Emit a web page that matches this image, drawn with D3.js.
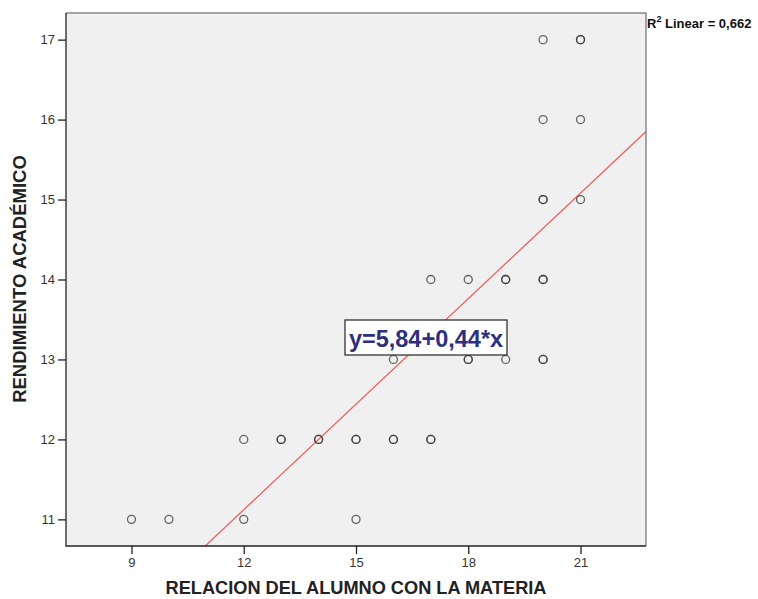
<!DOCTYPE html>
<html><head><meta charset="utf-8">
<script src="https://cdn.jsdelivr.net/npm/d3@7"></script>
<style>body{margin:0;background:#fff}svg{display:block}</style>
</head><body>
<script>
const xValues = [9,10,12,15,12,13,13,14,14,15,15,16,16,17,17,16,18,18,19,20,20,17,18,19,19,20,20,20,20,21,20,21,20,21,21];
const yValues = [11,11,11,11,12,12,12,12,12,12,12,12,12,12,12,13,13,13,13,13,13,14,14,14,14,14,14,15,15,15,16,16,17,17,17];
const xTicks = [9,12,15,18,21];
const yTicks = [11,12,13,14,15,16,17];
const fitIntercept = 5.84, fitSlope = 0.44;
const equationLabel = "y=5,84+0,44*x";
const r2Label = "0,662";
const xTitle = "RELACION DEL ALUMNO CON LA MATERIA";
const yTitle = "RENDIMIENTO ACADÉMICO";

const W=758,H=599;
const L=66,R=646,T=13,B=546;
const svg=d3.select("body").append("svg").attr("width",W).attr("height",H);
const x=d3.scaleLinear().domain([7.25,22.75]).range([L,R]);
const y=d3.scaleLinear().domain([10.667,17.333]).range([B,T]);

svg.append("rect").attr("x",L).attr("y",T).attr("width",R-L).attr("height",B-T).attr("fill","#f0f0f0");
svg.append("defs").append("clipPath").attr("id","c").append("rect").attr("x",L).attr("y",T).attr("width",R-L).attr("height",B-T);

const xd=x.domain();
svg.append("line").attr("clip-path","url(#c)")
 .attr("x1",x(xd[0])).attr("y1",y(fitIntercept+fitSlope*xd[0]))
 .attr("x2",x(xd[1])).attr("y2",y(fitIntercept+fitSlope*xd[1]))
 .attr("stroke","#f06060").attr("stroke-width",1.3);

svg.append("g").selectAll("circle").data(xValues.map((v,i)=>[v,yValues[i]])).join("circle")
 .attr("cx",d=>x(d[0])).attr("cy",d=>y(d[1])).attr("r",4)
 .attr("fill","none").attr("stroke","#333").attr("stroke-opacity",0.75).attr("stroke-width",1.3);

svg.append("path").attr("d",`M${L},${T}H${R}V${B}`).attr("fill","none").attr("stroke","#888").attr("stroke-width",1.5);
svg.append("path").attr("d",`M${L},${T}V${B}H${R}`).attr("fill","none").attr("stroke","#222").attr("stroke-width",1.3);

const gx=svg.append("g").attr("transform",`translate(0,${B})`)
 .call(d3.axisBottom(x).tickValues(xTicks).tickFormat(d3.format("d")).tickSize(8).tickSizeOuter(0).tickPadding(4));
const gy=svg.append("g").attr("transform",`translate(${L},0)`)
 .call(d3.axisLeft(y).tickValues(yTicks).tickFormat(d3.format("d")).tickSize(8).tickSizeOuter(0).tickPadding(3));
[gx,gy].forEach(g=>{g.select(".domain").remove();
 g.selectAll(".tick line").attr("stroke","#222").attr("stroke-width",1.3);
 g.selectAll(".tick text").attr("font-family","Arial, Liberation Sans, sans-serif").attr("font-size",13).attr("fill","#333");});

const ex=426, ey=338;
const eg=svg.append("g");
eg.append("rect").attr("x",345).attr("y",320).attr("width",162).attr("height",35).attr("fill","#fff").attr("stroke","#333").attr("stroke-width",1.3);
eg.append("text").attr("x",ex).attr("y",ey+8.5).attr("text-anchor","middle")
 .attr("font-family","Arial, Liberation Sans, sans-serif").attr("font-weight","bold").attr("font-size",23.5).attr("fill","#2e307e").text(equationLabel);

const rt=svg.append("text").attr("x",647).attr("y",28).attr("font-family","Arial, Liberation Sans, sans-serif").attr("font-weight","bold").attr("font-size",13).attr("fill","#111");
rt.append("tspan").text("R");
rt.append("tspan").attr("dy",-6).attr("font-size",9).text("2");
rt.append("tspan").attr("dy",6).text(" Linear = "+r2Label);

svg.append("text").attr("x",356).attr("y",594).attr("text-anchor","middle")
 .attr("font-family","Arial, Liberation Sans, sans-serif").attr("font-weight","bold").attr("font-size",18.2).attr("fill","#222").text(xTitle);
svg.append("text").attr("transform","translate(26,279) rotate(-90)").attr("text-anchor","middle")
 .attr("font-family","Arial, Liberation Sans, sans-serif").attr("font-weight","bold").attr("font-size",18.5).attr("fill","#222").text(yTitle);
</script>
</body></html>
